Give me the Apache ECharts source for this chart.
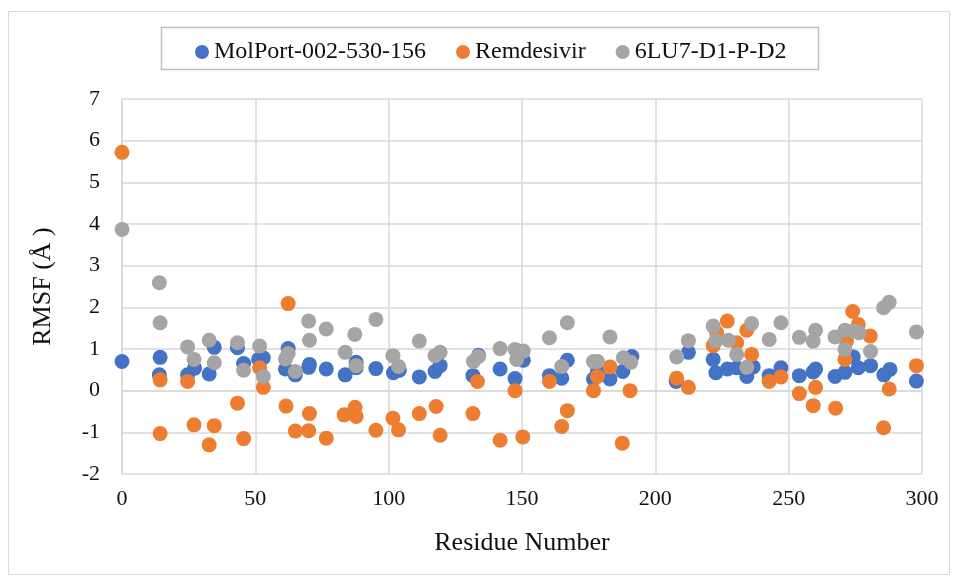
<!DOCTYPE html>
<html>
<head>
<meta charset="utf-8">
<script src="https://cdn.jsdelivr.net/npm/echarts@6/dist/echarts.min.js"></script>
<style>
html,body{margin:0;padding:0;background:#fff;}
#chart{width:958px;height:583px;}
</style>
</head>
<body>
<div id="chart"></div>
<script>
// ---- Data ----
const seriesNames = ["MolPort-002-530-156", "Remdesivir", "6LU7-D1-P-D2"];
const xTicks = [0, 50, 100, 150, 200, 250, 300];
const yTicks = [-2, -1, 0, 1, 2, 3, 4, 5, 6, 7];

const molportX = [0,14.3,14,24.6,27.2,32.7,34.6,43.3,45.6,51.2,53,61.3,62.3,65,70,70.3,76.6,83.7,87.8,87.8,95.2,101.8,104,111.5,117.4,119.3,131.6,133.7,141.8,147.4,150.5,160.3,164.9,167,176.8,178.3,183,187.8,191.2,207.8,212.4,221.7,222.7,227,230.5,234.3,236.7,242.7,247.1,254,259.2,260.1,267.4,271.1,274.2,276.1,280.7,285.7,288,297.9];
const molportY = [0.70,0.80,0.38,0.38,0.54,0.40,1.04,1.03,0.65,0.75,0.79,0.52,1.01,0.38,0.56,0.63,0.52,0.38,0.68,0.55,0.53,0.43,0.49,0.33,0.46,0.60,0.36,0.85,0.52,0.29,0.73,0.36,0.30,0.73,0.28,0.46,0.28,0.46,0.82,0.22,0.92,0.75,0.43,0.52,0.55,0.34,0.57,0.36,0.55,0.36,0.45,0.52,0.34,0.44,0.81,0.55,0.60,0.38,0.51,0.23];

const remdesivirX = [0,14.3,14.3,24.6,27,32.7,34.6,43.3,45.6,51.6,53,62.3,61.5,65,70.3,70,76.6,83.3,87.4,87.8,95.2,101.6,103.7,111.5,117.8,119.3,131.6,133.3,141.8,147.4,150.3,160.3,164.9,167,176.8,178.3,183,187.6,190.5,208,212.4,221.7,223,227,230.5,234.3,236.1,242.7,247.1,254,259.2,260.1,267.6,271.1,271.7,274,276.1,280.6,285.6,287.7,297.9];
const remdesivirY = [5.72,0.26,-1.03,0.22,-0.82,-1.30,-0.84,-0.30,-1.15,0.55,0.08,2.09,-0.37,-0.97,-0.55,-0.96,-1.14,-0.58,-0.40,-0.62,-0.95,-0.66,-0.94,-0.55,-0.38,-1.07,-0.55,0.22,-1.19,0.00,-1.11,0.22,-0.86,-0.48,0.00,0.34,0.57,-1.26,0.00,0.30,0.08,1.08,1.39,1.67,1.15,1.45,0.87,0.22,0.33,-0.07,-0.36,0.08,-0.42,0.75,1.19,1.90,1.59,1.31,-0.89,0.04,0.60];

const lu7X = [0,14,14.3,24.6,27,32.7,34.6,43.3,45.6,51.6,53,61.3,62.3,65,70,70.3,76.6,83.7,87.3,87.8,95.2,101.6,103.7,111.5,117.4,119.3,131.8,133.7,141.8,147.4,148,150.5,160.3,164.9,167,176.8,178.3,183,188,190.8,208,212.4,221.7,222.7,227.4,230.5,234.3,236.1,242.7,247.1,254,259.2,260.1,267.4,271.1,271.1,274.2,276.4,280.7,285.6,287.7,297.9];
const lu7Y = [3.87,2.59,1.63,1.05,0.75,1.21,0.67,1.15,0.49,1.07,0.34,0.76,0.89,0.46,1.67,1.21,1.48,0.92,1.35,0.60,1.71,0.84,0.58,1.19,0.84,0.92,0.70,0.82,1.01,0.99,0.75,0.95,1.27,0.58,1.63,0.70,0.70,1.29,0.79,0.68,0.81,1.20,1.55,1.20,1.21,0.87,0.56,1.61,1.23,1.63,1.28,1.19,1.45,1.29,1.45,0.99,1.43,1.39,0.94,1.99,2.12,1.41];

const colors = ["#4472C4", "#ED7D31", "#A5A5A5"];

function pairs(xs, ys) { return xs.map((x, i) => [x, ys[i]]); }

const FONT = "'Liberation Serif', 'Times New Roman', serif";
const chart = echarts.init(document.getElementById('chart'), null, {renderer: 'canvas'});

const seriesData = [pairs(molportX, molportY), pairs(remdesivirX, remdesivirY), pairs(lu7X, lu7Y)];

chart.setOption({
  animation: false,
  backgroundColor: '#fff',
  color: colors,
  graphic: [
    {type: 'rect', shape: {x: 8.5, y: 11.5, width: 941, height: 563}, style: {fill: 'none', stroke: '#d9d9d9', lineWidth: 1}, silent: true, z: -10},
    {type: 'rect', shape: {x: 161.5, y: 27.5, width: 657, height: 42}, style: {fill: '#fff', stroke: '#bfbfbf', lineWidth: 1.5}, silent: true, z: -5}
  ],
  legend: {
    data: seriesNames,
    left: 190,
    top: 35,
    icon: 'circle',
    itemWidth: 14,
    itemHeight: 14,
    itemGap: 30,
    textStyle: {fontFamily: FONT, fontSize: 24, color: '#111', padding: [0, 0, 0, 0]}
  },
  grid: {left: 122, right: 36, top: 99, bottom: 109, containLabel: false},
  xAxis: {
    type: 'value',
    min: xTicks[0], max: xTicks[xTicks.length - 1], interval: 50,
    name: 'Residue Number',
    nameLocation: 'middle',
    nameGap: 56,
    nameTextStyle: {fontFamily: FONT, fontSize: 26, color: '#111'},
    axisLine: {show: true, lineStyle: {color: '#d9d9d9', width: 1.5}},
    axisTick: {show: false},
    axisLabel: {fontFamily: FONT, fontSize: 22, color: '#111', margin: 14},
    splitLine: {show: true, lineStyle: {color: '#d9d9d9', width: 1.5}}
  },
  yAxis: {
    type: 'value',
    min: yTicks[0], max: yTicks[yTicks.length - 1], interval: 1,
    name: 'RMSF (Å )',
    nameLocation: 'middle',
    nameRotate: 90,
    nameGap: 66,
    nameTextStyle: {fontFamily: FONT, fontSize: 26, color: '#111'},
    axisLine: {show: true, lineStyle: {color: '#d9d9d9', width: 1.5}},
    axisTick: {show: false},
    axisLabel: {fontFamily: FONT, fontSize: 22, color: '#111', margin: 22},
    splitLine: {show: true, lineStyle: {color: '#d9d9d9', width: 1.5}}
  },
  series: seriesNames.map((name, i) => ({
    name: name,
    type: 'scatter',
    data: seriesData[i],
    symbol: 'circle',
    symbolSize: 15,
    itemStyle: {color: colors[i], opacity: 1},
    z: 2 + i
  }))
});
</script>
</body>
</html>
